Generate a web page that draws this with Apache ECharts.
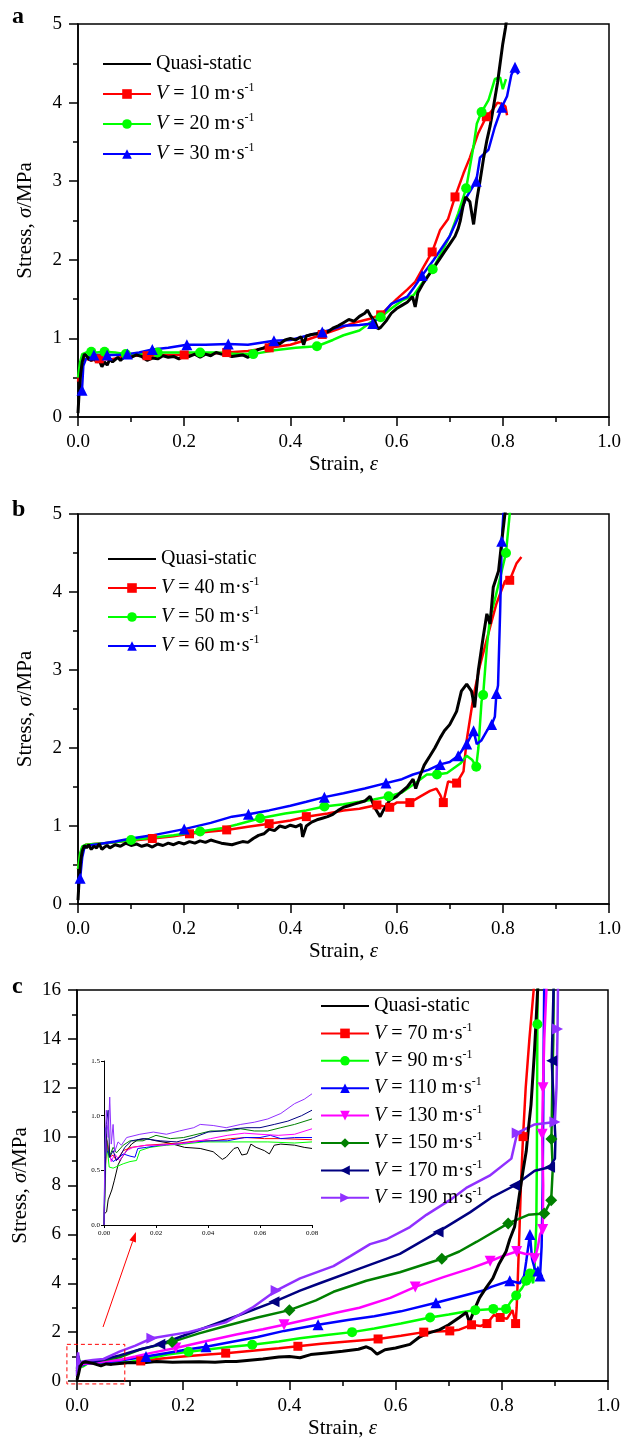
<!DOCTYPE html>
<html>
<head>
<meta charset="utf-8">
<script src="https://cdn.jsdelivr.net/npm/echarts@6/dist/echarts.min.js"></script>
<style>
html, body { margin: 0; background: #fff; }
#main { width: 623px; height: 1445px; }
</style>
</head>
<body>
<div id="main"></div>
<script>
var FONT = 'Liberation Serif';

// ---------- panel a ----------
var qsA = [[0,0.05],[0.002,0.3],[0.005,0.55],[0.008,0.7],[0.012,0.8],[0.016,0.78],[0.02,0.74],[0.025,0.72],[0.03,0.75],[0.035,0.7],[0.04,0.72],[0.045,0.64],[0.05,0.7],[0.055,0.66],[0.06,0.74],[0.065,0.7],[0.07,0.73],[0.075,0.76],[0.08,0.72],[0.09,0.78],[0.1,0.76],[0.11,0.79],[0.12,0.77],[0.13,0.72],[0.14,0.75],[0.15,0.74],[0.16,0.78],[0.17,0.76],[0.18,0.77],[0.19,0.74],[0.2,0.78],[0.21,0.77],[0.22,0.8],[0.23,0.76],[0.24,0.8],[0.25,0.78],[0.26,0.82],[0.27,0.8],[0.28,0.79],[0.29,0.77],[0.3,0.78],[0.31,0.79],[0.32,0.76],[0.33,0.82],[0.34,0.86],[0.35,0.88],[0.36,0.92],[0.37,0.95],[0.38,0.93],[0.39,0.98],[0.4,1.0],[0.41,0.98],[0.42,1.02],[0.425,0.92],[0.43,1.03],[0.44,1.05],[0.45,1.06],[0.46,1.1],[0.47,1.08],[0.48,1.13],[0.49,1.16],[0.5,1.2],[0.51,1.24],[0.52,1.22],[0.53,1.28],[0.54,1.32],[0.545,1.36],[0.55,1.3],[0.56,1.2],[0.565,1.12],[0.57,1.14],[0.58,1.22],[0.59,1.32],[0.6,1.38],[0.61,1.42],[0.62,1.46],[0.63,1.53],[0.635,1.4],[0.64,1.58],[0.65,1.7],[0.66,1.8],[0.67,1.9],[0.68,2.0],[0.69,2.1],[0.7,2.2],[0.71,2.3],[0.716,2.4],[0.72,2.5],[0.725,2.68],[0.73,2.8],[0.738,2.74],[0.745,2.45],[0.751,2.76],[0.757,3.0],[0.764,3.3],[0.77,3.52],[0.776,3.7],[0.78,3.85],[0.785,4.05],[0.79,4.25],[0.795,4.5],[0.8,4.75],[0.805,4.95],[0.81,5.2]];
var v10 = [[0,0.45],[0.004,0.62],[0.008,0.72],[0.015,0.74],[0.025,0.72],[0.04,0.74],[0.06,0.73],[0.08,0.76],[0.1,0.78],[0.13,0.78],[0.16,0.79],[0.2,0.79],[0.24,0.8],[0.28,0.82],[0.32,0.84],[0.36,0.88],[0.4,0.92],[0.43,0.98],[0.46,1.05],[0.49,1.12],[0.52,1.2],[0.55,1.25],[0.57,1.3],[0.6,1.5],[0.62,1.62],[0.635,1.72],[0.65,1.9],[0.667,2.1],[0.682,2.38],[0.697,2.52],[0.71,2.8],[0.726,3.1],[0.738,3.3],[0.753,3.6],[0.769,3.82],[0.78,3.9],[0.79,4.0],[0.8,3.98],[0.805,3.95],[0.808,3.84]];
var v10Marks = [0.04,0.13,0.2,0.28,0.36,0.46,0.57,0.667,0.71,0.769];
var v20 = [[0,0.5],[0.004,0.7],[0.008,0.8],[0.015,0.82],[0.025,0.83],[0.035,0.82],[0.05,0.83],[0.07,0.82],[0.09,0.8],[0.12,0.8],[0.15,0.82],[0.18,0.82],[0.23,0.82],[0.26,0.82],[0.3,0.8],[0.33,0.8],[0.37,0.85],[0.41,0.88],[0.45,0.9],[0.48,0.98],[0.5,1.04],[0.53,1.1],[0.55,1.2],[0.57,1.27],[0.59,1.38],[0.61,1.48],[0.632,1.55],[0.65,1.72],[0.668,1.88],[0.685,2.1],[0.7,2.3],[0.716,2.59],[0.731,2.91],[0.738,3.18],[0.745,3.45],[0.751,3.73],[0.76,3.88],[0.773,4.03],[0.785,4.3],[0.795,4.32],[0.8,4.17],[0.806,4.3]];
var v20Marks = [0.025,0.05,0.09,0.15,0.23,0.33,0.45,0.57,0.668,0.731,0.76];
var v30 = [[0,0.3],[0.0075,0.34],[0.01,0.65],[0.015,0.74],[0.03,0.79],[0.055,0.79],[0.075,0.79],[0.093,0.8],[0.115,0.82],[0.14,0.86],[0.17,0.88],[0.205,0.92],[0.24,0.92],[0.283,0.93],[0.32,0.92],[0.369,0.97],[0.4,0.98],[0.44,1.05],[0.46,1.08],[0.5,1.16],[0.53,1.17],[0.555,1.19],[0.575,1.32],[0.59,1.44],[0.62,1.53],[0.632,1.64],[0.648,1.8],[0.67,2.0],[0.7,2.3],[0.72,2.6],[0.732,2.8],[0.75,3.0],[0.757,3.3],[0.773,3.4],[0.785,3.69],[0.798,3.94],[0.808,4.08],[0.816,4.35],[0.823,4.45],[0.829,4.36]];
var v30Marks = [0.0075,0.03,0.055,0.093,0.14,0.205,0.283,0.369,0.46,0.555,0.648,0.75,0.798,0.823];

// ---------- panel b ----------
var qsB = [[0,0.05],[0.002,0.3],[0.005,0.55],[0.008,0.68],[0.012,0.75],[0.016,0.72],[0.02,0.76],[0.025,0.7],[0.03,0.74],[0.035,0.72],[0.04,0.77],[0.045,0.7],[0.05,0.73],[0.055,0.75],[0.06,0.72],[0.07,0.76],[0.08,0.74],[0.09,0.78],[0.1,0.75],[0.11,0.77],[0.12,0.74],[0.13,0.76],[0.14,0.73],[0.15,0.77],[0.16,0.75],[0.17,0.78],[0.18,0.76],[0.19,0.79],[0.2,0.77],[0.21,0.8],[0.22,0.78],[0.23,0.81],[0.24,0.79],[0.25,0.82],[0.26,0.8],[0.27,0.78],[0.28,0.77],[0.29,0.76],[0.3,0.78],[0.31,0.8],[0.32,0.79],[0.33,0.84],[0.34,0.88],[0.35,0.9],[0.36,0.96],[0.37,0.94],[0.38,1.0],[0.39,0.98],[0.4,1.01],[0.41,0.99],[0.42,1.02],[0.423,0.86],[0.43,1.0],[0.44,1.05],[0.45,1.08],[0.46,1.1],[0.47,1.12],[0.48,1.15],[0.49,1.2],[0.5,1.24],[0.51,1.26],[0.52,1.28],[0.53,1.3],[0.54,1.32],[0.55,1.38],[0.56,1.22],[0.569,1.12],[0.575,1.2],[0.587,1.33],[0.6,1.38],[0.606,1.42],[0.62,1.5],[0.631,1.6],[0.636,1.48],[0.645,1.66],[0.652,1.78],[0.663,1.9],[0.672,2.0],[0.682,2.13],[0.69,2.22],[0.7,2.3],[0.713,2.47],[0.722,2.73],[0.732,2.82],[0.741,2.73],[0.747,2.52],[0.754,3.0],[0.763,3.42],[0.77,3.72],[0.776,3.59],[0.782,4.06],[0.792,4.27],[0.798,4.65],[0.804,5.0],[0.81,5.2]];
var v40 = [[0,0.45],[0.004,0.62],[0.008,0.72],[0.015,0.76],[0.03,0.77],[0.05,0.78],[0.08,0.8],[0.1,0.81],[0.14,0.84],[0.18,0.87],[0.21,0.9],[0.25,0.93],[0.28,0.95],[0.32,0.99],[0.36,1.03],[0.4,1.07],[0.43,1.12],[0.47,1.16],[0.5,1.2],[0.53,1.22],[0.563,1.27],[0.587,1.24],[0.6,1.3],[0.625,1.3],[0.645,1.38],[0.663,1.45],[0.675,1.48],[0.682,1.4],[0.688,1.3],[0.697,1.57],[0.713,1.55],[0.726,1.7],[0.732,2.1],[0.745,2.67],[0.757,3.06],[0.776,3.55],[0.788,3.85],[0.804,4.14],[0.813,4.15],[0.826,4.37],[0.835,4.45]];
var v40Marks = [0.14,0.21,0.28,0.36,0.43,0.563,0.587,0.625,0.688,0.713,0.813];
var v50 = [[0,0.45],[0.004,0.65],[0.008,0.74],[0.015,0.76],[0.03,0.77],[0.05,0.78],[0.08,0.8],[0.1,0.82],[0.14,0.85],[0.18,0.88],[0.23,0.93],[0.27,0.97],[0.3,1.02],[0.343,1.1],[0.39,1.16],[0.43,1.2],[0.464,1.25],[0.5,1.28],[0.53,1.31],[0.557,1.34],[0.585,1.38],[0.61,1.43],[0.631,1.53],[0.657,1.66],[0.676,1.66],[0.695,1.68],[0.72,1.8],[0.732,1.9],[0.742,1.85],[0.75,1.76],[0.754,2.0],[0.76,2.6],[0.763,2.68],[0.77,3.3],[0.776,3.67],[0.785,3.9],[0.798,4.27],[0.806,4.5],[0.813,5.0],[0.816,5.2]];
var v50Marks = [0.1,0.23,0.343,0.464,0.585,0.676,0.75,0.763,0.806];
var v60 = [[0,0.28],[0.004,0.33],[0.008,0.6],[0.012,0.72],[0.02,0.75],[0.04,0.77],[0.07,0.8],[0.1,0.84],[0.14,0.88],[0.2,0.96],[0.25,1.04],[0.29,1.12],[0.321,1.15],[0.36,1.2],[0.4,1.26],[0.43,1.31],[0.464,1.37],[0.5,1.42],[0.54,1.48],[0.58,1.55],[0.61,1.6],[0.631,1.66],[0.66,1.72],[0.682,1.79],[0.7,1.82],[0.716,1.9],[0.732,2.05],[0.745,2.22],[0.751,2.05],[0.76,2.1],[0.77,2.22],[0.779,2.3],[0.785,2.4],[0.788,2.7],[0.791,2.8],[0.795,3.75],[0.798,4.65],[0.801,5.0],[0.803,5.2]];
var v60Marks = [0.004,0.2,0.321,0.464,0.58,0.682,0.716,0.732,0.745,0.779,0.788,0.798];

// ---------- panel c ----------
var qsC = [[0,0.05],[0.003,0.3],[0.006,0.6],[0.01,0.74],[0.016,0.79],[0.03,0.72],[0.045,0.62],[0.055,0.7],[0.065,0.68],[0.08,0.72],[0.1,0.76],[0.12,0.74],[0.15,0.8],[0.18,0.77],[0.2,0.78],[0.23,0.79],[0.26,0.77],[0.28,0.8],[0.3,0.8],[0.32,0.84],[0.35,0.9],[0.38,0.98],[0.4,1.0],[0.42,0.95],[0.44,1.08],[0.47,1.15],[0.5,1.22],[0.53,1.3],[0.545,1.4],[0.555,1.3],[0.565,1.1],[0.58,1.28],[0.6,1.35],[0.627,1.5],[0.645,1.8],[0.66,1.95],[0.683,2.1],[0.7,2.3],[0.72,2.6],[0.733,2.8],[0.739,2.4],[0.75,3.0],[0.758,3.4],[0.77,3.8],[0.783,4.2],[0.795,4.8],[0.808,5.3],[0.815,5.8],[0.824,6.3],[0.829,7.0],[0.833,7.6],[0.84,8.6],[0.846,9.4],[0.85,10.3],[0.855,11.3],[0.858,12.3],[0.861,13.3],[0.864,14.5],[0.867,15.8],[0.869,16.5]];
var v70 = [[0,0.5],[0.005,0.7],[0.01,0.75],[0.03,0.73],[0.06,0.72],[0.09,0.74],[0.12,0.82],[0.16,0.92],[0.2,1.0],[0.24,1.07],[0.28,1.14],[0.33,1.24],[0.38,1.34],[0.416,1.42],[0.46,1.52],[0.51,1.62],[0.567,1.72],[0.61,1.85],[0.653,2.0],[0.702,2.05],[0.72,2.1],[0.743,2.3],[0.76,2.25],[0.772,2.35],[0.785,2.7],[0.797,2.6],[0.81,2.55],[0.82,2.9],[0.826,2.35],[0.828,3.0],[0.83,4.1],[0.833,6.0],[0.836,8.0],[0.84,10.0],[0.845,12.0],[0.852,14.0],[0.86,16.0],[0.862,16.5]];
var v70Marks = [0.12,0.28,0.416,0.567,0.653,0.702,0.743,0.772,0.797,0.826,0.84];
var v90 = [[0,0.3],[0.003,0.55],[0.006,0.56],[0.012,0.6],[0.02,0.72],[0.04,0.76],[0.06,0.76],[0.08,0.76],[0.1,0.78],[0.13,0.9],[0.17,1.08],[0.21,1.2],[0.25,1.3],[0.29,1.4],[0.33,1.48],[0.38,1.62],[0.42,1.75],[0.47,1.88],[0.518,2.0],[0.56,2.15],[0.61,2.35],[0.665,2.6],[0.7,2.72],[0.727,2.82],[0.75,2.9],[0.784,2.95],[0.808,2.95],[0.817,3.25],[0.827,3.5],[0.838,3.8],[0.846,4.1],[0.853,4.4],[0.859,4.0],[0.862,4.8],[0.865,6.4],[0.866,9.0],[0.8665,12.0],[0.867,14.6],[0.868,16.5]];
var v90Marks = [0.21,0.33,0.518,0.665,0.75,0.784,0.808,0.827,0.846,0.853,0.867];
var v110 = [[0,0.35],[0.004,0.85],[0.008,0.62],[0.015,0.7],[0.03,0.74],[0.05,0.77],[0.07,0.8],[0.1,0.9],[0.13,1.0],[0.17,1.15],[0.21,1.3],[0.243,1.4],[0.29,1.6],[0.34,1.8],[0.39,2.05],[0.454,2.3],[0.51,2.5],[0.56,2.65],[0.61,2.85],[0.676,3.2],[0.72,3.45],[0.765,3.7],[0.78,3.85],[0.815,4.1],[0.834,4.0],[0.842,4.3],[0.846,4.9],[0.853,6.0],[0.857,5.0],[0.862,4.6],[0.868,4.5],[0.872,4.3],[0.875,5.5],[0.877,8.0],[0.878,11.0],[0.879,14.0],[0.88,16.5]];
var v110Marks = [0.13,0.243,0.454,0.676,0.815,0.853,0.868,0.872];
var v130 = [[0,0.4],[0.003,0.83],[0.006,0.58],[0.012,0.71],[0.03,0.74],[0.05,0.8],[0.08,0.86],[0.11,1.0],[0.14,1.15],[0.186,1.35],[0.24,1.62],[0.3,1.9],[0.35,2.12],[0.39,2.3],[0.44,2.55],[0.49,2.8],[0.532,3.0],[0.59,3.4],[0.637,3.85],[0.69,4.25],[0.74,4.6],[0.778,4.9],[0.8,5.1],[0.828,5.3],[0.845,5.2],[0.859,5.2],[0.862,5.0],[0.868,5.5],[0.872,6.0],[0.877,6.2],[0.878,8.0],[0.876,10.1],[0.8775,12.0],[0.88,14.0],[0.885,16.5]];
var v130Marks = [0.186,0.39,0.637,0.778,0.828,0.862,0.877,0.876,0.8775];
var v150 = [[0,0.4],[0.003,1.0],[0.006,0.66],[0.012,0.77],[0.03,0.8],[0.05,0.86],[0.08,0.97],[0.12,1.3],[0.179,1.6],[0.23,1.95],[0.28,2.25],[0.34,2.6],[0.4,2.9],[0.45,3.3],[0.483,3.65],[0.545,4.1],[0.608,4.45],[0.687,5.0],[0.72,5.3],[0.753,5.7],[0.812,6.45],[0.85,6.8],[0.88,6.85],[0.893,7.4],[0.896,8.7],[0.8935,9.9],[0.895,12.0],[0.897,14.0],[0.898,16.5]];
var v150Marks = [0.179,0.4,0.687,0.812,0.88,0.893,0.8935];
var v170 = [[0,0.5],[0.002,1.05],[0.005,0.59],[0.01,0.77],[0.03,0.77],[0.05,0.88],[0.08,1.05],[0.12,1.3],[0.156,1.5],[0.2,1.85],[0.25,2.25],[0.306,2.7],[0.371,3.24],[0.42,3.7],[0.457,4.0],[0.532,4.6],[0.608,5.2],[0.68,6.1],[0.74,6.9],[0.78,7.5],[0.824,8.0],[0.862,8.6],[0.89,8.75],[0.9,9.1],[0.901,9.9],[0.894,13.1],[0.898,16.5]];
var v170Marks = [0.156,0.371,0.68,0.824,0.89,0.894];
var v190 = [[0,0.2],[0.001,1.0],[0.002,1.17],[0.004,0.67],[0.01,0.8],[0.03,0.86],[0.05,0.9],[0.08,1.2],[0.11,1.45],[0.141,1.75],[0.21,2.0],[0.28,2.4],[0.33,3.0],[0.375,3.7],[0.42,4.2],[0.483,4.7],[0.514,5.1],[0.552,5.6],[0.583,5.8],[0.627,6.3],[0.658,6.8],[0.702,7.4],[0.733,7.9],[0.777,8.4],[0.818,9.1],[0.829,10.15],[0.862,10.5],[0.9,10.6],[0.903,12.0],[0.905,14.4],[0.906,16.5]];
var v190Marks = [0.141,0.375,0.829,0.9,0.905];

// ---------- inset of panel c (strain 0 - 0.08) ----------
var insQs = [[0,0.1],[0.001,0.12],[0.0016,0.23],[0.003,0.32],[0.004,0.41],[0.0054,0.55],[0.0067,0.61],[0.0087,0.68],[0.0106,0.74],[0.013,0.78],[0.0164,0.79],[0.02,0.77],[0.025,0.75],[0.031,0.71],[0.037,0.7],[0.042,0.67],[0.0455,0.6],[0.047,0.62],[0.05,0.7],[0.0515,0.71],[0.053,0.64],[0.055,0.65],[0.0565,0.74],[0.0585,0.71],[0.0617,0.68],[0.0636,0.65],[0.0655,0.73],[0.068,0.74],[0.0733,0.73],[0.077,0.71],[0.08,0.7]];
var ins70 = [[0,0.0],[0.0005,0.53],[0.0013,0.77],[0.0022,0.62],[0.0035,0.64],[0.0048,0.59],[0.0074,0.68],[0.0106,0.71],[0.0164,0.73],[0.0229,0.74],[0.029,0.75],[0.0358,0.77],[0.042,0.77],[0.0487,0.79],[0.055,0.8],[0.0617,0.79],[0.068,0.79],[0.08,0.78]];
var ins90 = [[0,0.0],[0.0005,0.32],[0.0007,0.6],[0.0012,0.71],[0.002,0.53],[0.0035,0.52],[0.0074,0.56],[0.01,0.58],[0.0125,0.59],[0.0138,0.68],[0.0177,0.71],[0.024,0.73],[0.0306,0.74],[0.0384,0.76],[0.0474,0.76],[0.055,0.76],[0.063,0.76],[0.0733,0.75],[0.08,0.76]];
var ins110 = [[0,0.0],[0.0005,0.89],[0.0012,0.68],[0.0022,0.62],[0.0035,0.58],[0.0054,0.61],[0.0074,0.65],[0.01,0.63],[0.0119,0.62],[0.013,0.7],[0.0164,0.71],[0.0216,0.73],[0.028,0.74],[0.0345,0.76],[0.041,0.77],[0.0474,0.77],[0.054,0.8],[0.06,0.8],[0.064,0.82],[0.068,0.79],[0.0733,0.8],[0.08,0.8]];
var ins130 = [[0,0.0],[0.0009,0.83],[0.0016,0.68],[0.0022,0.64],[0.0028,0.58],[0.0041,0.65],[0.006,0.59],[0.0087,0.68],[0.0112,0.71],[0.0164,0.73],[0.0216,0.73],[0.028,0.74],[0.0345,0.76],[0.041,0.79],[0.0474,0.82],[0.054,0.84],[0.06,0.83],[0.067,0.82],[0.0733,0.83],[0.08,0.88]];
var ins150 = [[0,0.0],[0.0006,0.86],[0.0013,0.74],[0.002,0.62],[0.0035,0.71],[0.0048,0.66],[0.0074,0.73],[0.01,0.77],[0.015,0.77],[0.02,0.82],[0.0255,0.79],[0.0306,0.8],[0.0358,0.83],[0.041,0.86],[0.0474,0.86],[0.0526,0.88],[0.0578,0.86],[0.063,0.86],[0.068,0.89],[0.0733,0.92],[0.08,0.97]];
var ins170 = [[0,0.0],[0.0009,0.92],[0.0016,1.05],[0.0022,0.62],[0.0035,0.68],[0.0048,0.59],[0.006,0.62],[0.008,0.71],[0.0106,0.77],[0.015,0.79],[0.0216,0.77],[0.028,0.76],[0.0345,0.8],[0.04,0.85],[0.045,0.86],[0.05,0.88],[0.055,0.89],[0.06,0.89],[0.0655,0.92],[0.0707,0.95],[0.076,1.0],[0.08,1.05]];
var ins190 = [[0,0.0],[0.0003,0.62],[0.0009,1.05],[0.0016,0.8],[0.0022,1.17],[0.0028,0.74],[0.0035,0.92],[0.0041,0.67],[0.0054,0.76],[0.0067,0.73],[0.0087,0.8],[0.0138,0.83],[0.019,0.85],[0.024,0.83],[0.029,0.86],[0.0345,0.89],[0.037,0.92],[0.042,0.91],[0.047,0.89],[0.0526,0.92],[0.0578,0.94],[0.063,0.97],[0.068,1.02],[0.0733,1.11],[0.077,1.15],[0.08,1.2]];

// annotation in panel c coordinates: dashed box round the inset range, arrow to the inset
var insetBox = [-0.019, -0.12, 0.09, 1.5];
var arrowFrom = [0.049, 2.21], arrowTo = [0.111, 6.1];

var RED = '#ff0000', GREEN = '#00ff00', BLUE = '#0000ff', MAGENTA = '#ff00ff',
    DGREEN = '#008000', NAVY = '#000080', PURPLE = '#9030ff';

function curve(name, pts, marks, color, symbol, rot, idx, size) {
  return {
    name: name, type: 'line', xAxisIndex: idx, yAxisIndex: idx,
    data: pts.map(function (p) { return marks.indexOf(p[0]) >= 0 ? p : {value: p, symbol: 'none'}; }),
    symbol: symbol, symbolSize: size || 10, symbolRotate: rot,
    showSymbol: true, showAllSymbol: true,
    lineStyle: {color: color, width: 2.5}, itemStyle: {color: color},
    animation: false, silent: true
  };
}
function black(name, pts, idx, w) {
  // transparent item colour so the legend shows the line alone
  return {
    name: name, type: 'line', xAxisIndex: idx, yAxisIndex: idx, data: pts,
    symbol: 'none', lineStyle: {color: '#000', width: w}, itemStyle: {color: 'rgba(0,0,0,0)'},
    animation: false, silent: true
  };
}
function thin(name, pts, color) {
  return {
    name: name, type: 'line', xAxisIndex: 3, yAxisIndex: 3, data: pts,
    symbol: 'none', lineStyle: {color: color, width: 1}, animation: false, silent: true
  };
}

var tick = {color: '#000', width: 1.5};
function xAx(gi) {
  return {
    type: 'value', gridIndex: gi, min: 0, max: 1, interval: 0.2,
    axisLine: {show: true, lineStyle: tick},
    axisTick: {show: true, length: 9, lineStyle: tick},
    minorTick: {show: true, splitNumber: 2, length: 5, lineStyle: tick},
    splitLine: {show: false}, minorSplitLine: {show: false},
    axisLabel: {fontFamily: FONT, fontSize: 19, color: '#000', margin: 16,
      formatter: function (v) { return v.toFixed(1); }},
    name: 'Strain, {i|ε}', nameLocation: 'middle', nameGap: 37,
    nameTextStyle: {fontFamily: FONT, fontSize: 21, color: '#000',
      rich: {i: {fontFamily: FONT, fontSize: 21, fontStyle: 'italic', color: '#000'}}}
  };
}
function yAx(gi, max, interval) {
  return {
    type: 'value', gridIndex: gi, min: 0, max: max, interval: interval,
    axisLine: {show: true, lineStyle: tick},
    axisTick: {show: true, length: 9, lineStyle: tick},
    minorTick: {show: true, splitNumber: 2, length: 5, lineStyle: tick},
    splitLine: {show: false}, minorSplitLine: {show: false},
    axisLabel: {fontFamily: FONT, fontSize: 19, color: '#000', margin: 16},
    name: 'Stress, {i|σ}/MPa', nameLocation: 'middle', nameGap: 42,
    nameTextStyle: {fontFamily: FONT, fontSize: 21, color: '#000',
      rich: {i: {fontFamily: FONT, fontSize: 21, fontStyle: 'italic', color: '#000'}}}
  };
}

function legendFmt(name) {
  if (name === 'Quasi-static') return name;
  return '{i|V} = ' + name.match(/\d+/)[0] + ' m·s{s|-1}';
}
function legend(left, top, gap, names) {
  return {
    orient: 'vertical', left: left, top: top, padding: 0, itemWidth: 48, itemHeight: 12,
    itemGap: gap, itemTextGap: 5, selectedMode: false, data: names, formatter: legendFmt,
    textStyle: {fontFamily: FONT, fontSize: 20, color: '#000', lineHeight: 24,
      rich: {i: {fontFamily: FONT, fontSize: 20, fontStyle: 'italic', lineHeight: 24},
             s: {fontFamily: FONT, fontSize: 12, lineHeight: 12, verticalAlign: 'top'}}}
  };
}

var chart = echarts.init(document.getElementById('main'), null, {renderer: 'canvas'});
var gridBox = {show: true, borderColor: '#000', borderWidth: 1.5, outerBoundsMode: 'none'};
chart.setOption({
  backgroundColor: '#fff',
  animation: false,
  grid: [
    Object.assign({left: 78, top: 24, width: 531, height: 393}, gridBox),
    Object.assign({left: 78, top: 514, width: 531, height: 390}, gridBox),
    Object.assign({left: 77, top: 990, width: 531, height: 391}, gridBox),
    {left: 104, top: 1061, width: 208, height: 164, show: false, outerBoundsMode: 'none'}
  ],
  xAxis: [xAx(0), xAx(1), xAx(2), {
    type: 'value', gridIndex: 3, min: 0, max: 0.08, interval: 0.02,
    axisLine: {show: true, lineStyle: {color: '#000', width: 1}},
    axisTick: {show: true, length: 3, lineStyle: {color: '#000', width: 1}},
    splitLine: {show: false},
    axisLabel: {fontFamily: FONT, fontSize: 7, color: '#000', margin: 5,
      formatter: function (v) { return v.toFixed(2); }}
  }],
  yAxis: [yAx(0, 5, 1), yAx(1, 5, 1), yAx(2, 16, 2), {
    type: 'value', gridIndex: 3, min: 0, max: 1.5, interval: 0.5,
    axisLine: {show: true, lineStyle: {color: '#000', width: 1}},
    axisTick: {show: true, length: 3, lineStyle: {color: '#000', width: 1}},
    splitLine: {show: false},
    axisLabel: {fontFamily: FONT, fontSize: 7, color: '#000', margin: 4,
      formatter: function (v) { return v.toFixed(1); }}
  }],
  legend: [
    legend(102, 52, 6, ['Quasi-static', 'V = 10 m·s-1', 'V = 20 m·s-1', 'V = 30 m·s-1']),
    legend(107, 547, 5, ['Quasi-static', 'V = 40 m·s-1', 'V = 50 m·s-1', 'V = 60 m·s-1']),
    legend(320, 994, 3.4, ['Quasi-static', 'V = 70 m·s-1', 'V = 90 m·s-1', 'V = 110 m·s-1',
      'V = 130 m·s-1', 'V = 150 m·s-1', 'V = 170 m·s-1', 'V = 190 m·s-1'])
  ],
  series: [
    curve('V = 10 m·s-1', v10, v10Marks, RED, 'rect', 0, 0, 9),
    curve('V = 20 m·s-1', v20, v20Marks, GREEN, 'circle', 0, 0, 10),
    curve('V = 30 m·s-1', v30, v30Marks, BLUE, 'triangle', 0, 0, 11),
    black('Quasi-static', qsA, 0, 3),
    curve('V = 40 m·s-1', v40, v40Marks, RED, 'rect', 0, 1, 9),
    curve('V = 50 m·s-1', v50, v50Marks, GREEN, 'circle', 0, 1, 10),
    curve('V = 60 m·s-1', v60, v60Marks, BLUE, 'triangle', 0, 1, 11),
    black('Quasi-static', qsB, 1, 3),
    curve('V = 70 m·s-1', v70, v70Marks, RED, 'rect', 0, 2, 9),
    curve('V = 90 m·s-1', v90, v90Marks, GREEN, 'circle', 0, 2, 10),
    curve('V = 110 m·s-1', v110, v110Marks, BLUE, 'triangle', 0, 2, 11),
    curve('V = 130 m·s-1', v130, v130Marks, MAGENTA, 'triangle', 180, 2, 11),
    curve('V = 150 m·s-1', v150, v150Marks, DGREEN, 'diamond', 0, 2, 12),
    curve('V = 170 m·s-1', v170, v170Marks, NAVY, 'triangle', 90, 2, 11),
    curve('V = 190 m·s-1', v190, v190Marks, PURPLE, 'triangle', -90, 2, 11),
    black('Quasi-static', qsC, 2, 3),
    thin('in-qs', insQs, '#000'),
    thin('in-70', ins70, RED),
    thin('in-90', ins90, GREEN),
    thin('in-110', ins110, BLUE),
    thin('in-130', ins130, MAGENTA),
    thin('in-150', ins150, DGREEN),
    thin('in-170', ins170, NAVY),
    thin('in-190', ins190, PURPLE)
  ]
});

// panel letters, dashed box and arrow (placed from panel c coordinates)
var toPx = function (p) { return chart.convertToPixel({xAxisIndex: 2, yAxisIndex: 2}, p); };
var b0 = toPx([insetBox[0], insetBox[3]]), b1 = toPx([insetBox[2], insetBox[1]]);
var a0 = toPx(arrowFrom), a1 = toPx(arrowTo);
var ang = Math.atan2(a1[1] - a0[1], a1[0] - a0[0]);
var hl = 10, hw = 3.5;
var back = [a1[0] - hl * Math.cos(ang), a1[1] - hl * Math.sin(ang)];
var head = [a1, [back[0] + hw * Math.sin(ang), back[1] - hw * Math.cos(ang)],
            [back[0] - hw * Math.sin(ang), back[1] + hw * Math.cos(ang)]];
var letter = function (t, y) {
  return {type: 'text', left: 12, top: y, style: {text: t, fill: '#000',
    font: 'bold 24px "Liberation Serif"'}};
};
chart.setOption({
  graphic: [
    letter('a', 5), letter('b', 498), letter('c', 975),
    {type: 'rect', shape: {x: b0[0], y: b0[1], width: b1[0] - b0[0], height: b1[1] - b0[1]},
     style: {fill: 'none', stroke: RED, lineWidth: 1, lineDash: [4, 3]}, z: 100},
    {type: 'line', shape: {x1: a0[0], y1: a0[1], x2: back[0], y2: back[1]},
     style: {stroke: RED, lineWidth: 1}, z: 100},
    {type: 'polygon', shape: {points: head}, style: {fill: RED}, z: 100}
  ]
});
window.addEventListener('resize', function () { chart.resize(); });
</script>
</body>
</html>
